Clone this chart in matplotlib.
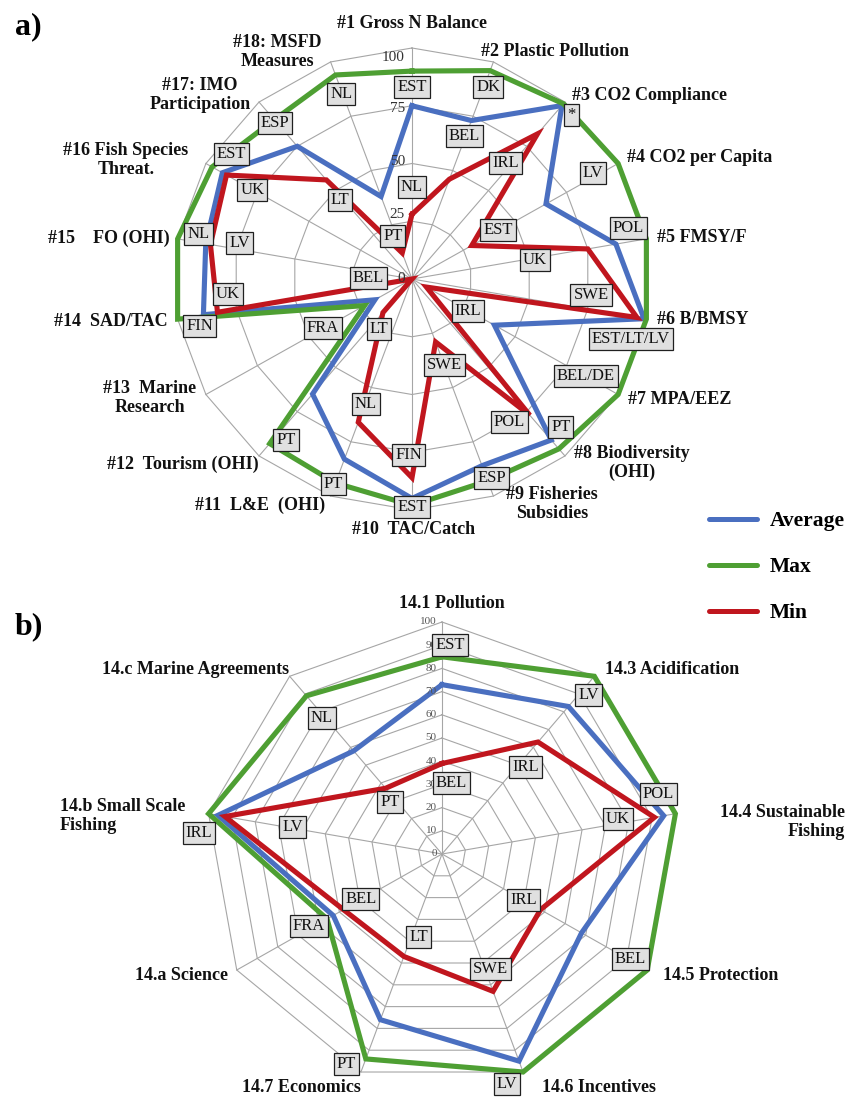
import numpy as np
import matplotlib
matplotlib.use("Agg")
import matplotlib.pyplot as plt
from matplotlib.lines import Line2D

plt.rcParams['font.family'] = ['Liberation Serif', 'DejaVu Serif']

# ---------------- data: chart a) ----------------
cats_a = ["#1 Gross N Balance", "#2 Plastic Pollution", "#3 CO2 Compliance",
          "#4 CO2 per Capita", "#5 FMSY/F", "#6 B/BMSY", "#7 MPA/EEZ",
          "#8 Biodiversity\n(OHI)", "#9 Fisheries\nSubsidies", "#10  TAC/Catch",
          "#11  L&E  (OHI)", "#12  Tourism (OHI)", "#13  Marine\nResearch",
          "#14  SAD/TAC", "#15    FO (OHI)", "#16 Fish Species\nThreat.",
          "#17: IMO\nParticipation", "#18: MSFD\nMeasures"]
avg_a = [75, 73, 98, 65, 87, 99, 40, 91, 86, 95, 83, 65, 18, 89, 88, 92, 75, 38]
max_a = [90, 96, 99, 100, 100, 100, 100, 96, 93, 98, 94, 93, 23, 100, 100, 97, 90, 94]
min_a = [28, 46, 82, 29, 75, 96, 7, 77, 29, 86, 66, 19, 0, 83, 86, 90, 56, 12]
max_lab_a = ["EST", "DK", "*", "LV", "POL", "EST/LT/LV", "BEL/DE", "PT", "ESP",
             "EST", "PT", "PT", "FRA", "FIN", "NL", "EST", "ESP", "NL"]
min_lab_a = ["NL", "BEL", "IRL", "EST", "UK", "SWE", "IRL", "POL", "SWE",
             "FIN", "NL", "LT", "BEL", "UK", "LV", "UK", "LT", "PT"]
ticks_a = [0, 25, 50, 75, 100]

# ---------------- data: chart b) ----------------
cats_b = ["14.1 Pollution", "14.3 Acidification", "14.4 Sustainable\nFishing",
          "14.5 Protection", "14.6 Incentives", "14.7 Economics", "14.a Science",
          "14.b Small Scale\nFishing", "14.c Marine Agreements"]
avg_b = [73, 83, 95, 68, 95, 76, 53, 96, 58]
max_b = [85, 100, 100, 100, 100, 94, 56, 100, 89]
min_b = [39, 63, 91, 48, 63, 47, 48, 93, 37]
max_lab_b = ["EST", "LV", "POL", "BEL", "LV", "PT", "FRA", "IRL", "NL"]
min_lab_b = ["BEL", "IRL", "UK", "IRL", "SWE", "LT", "BEL", "LV", "PT"]
ticks_b = list(range(0, 101, 10))

series_names = ["Average", "Max", "Min"]
colors = {"Average": "#4A6FC0", "Max": "#4E9F33", "Min": "#C0161E"}

# ---------------- layout (positions only) ----------------
W, H = 850, 1102
# label box positions, chart units (x, y) relative to centre
max_pos_a = [(0, 83), (32, 83), (67, 71), (76, 46), (91, 22), (92, -26), (73, -42),
             (62.5, -64), (33.5, -86.3), (0, -98.6), (-33, -88.9), (-52.9, -69.7),
             (-37.4, -21), (-89.2, -20.5), (-89.7, 19.5), (-75.8, 54.1), (-57.5, 67.4),
             (-29.7, 80)]
min_pos_a = [(0, 39.7), (22.1, 61.8), (39.4, 50.2), (36.1, 21.3), (51.6, 8.1),
             (75.2, -7.1), (23.6, -13.9), (41, -62), (13.7, -37.4), (-1.5, -76.3),
             (-19.5, -54), (-13.9, -21.5), (-18.3, 0.6), (-77.4, -6.4), (-72.5, 15.5),
             (-67.1, 38.7), (-30.3, 34.1), (-8.1, 18.7)]
max_pos_b = [(3.4, 90.1), (61.8, 68.7), (91.4, 25.8), (79.4, -45.1), (27.5, -99.1),
             (-40.3, -90.6), (-56.2, -30.9), (-102.6, 9.0), (-50.6, 58.8)]
min_pos_b = [(3.9, 30.5), (35.2, 37.3), (74.2, 15.0), (34.3, -19.7), (20.6, -49.4),
             (-9.9, -35.6), (-34.3, -19.3), (-63.1, 11.6), (-21.9, 22.3)]
# tick label vertical nudges (chart units) for chart a
tick_nudge_a = {0: 0, 25: 3, 50: 1, 75: -1, 100: -4}
# category label pixel positions and alignment
cat_pos_a = [(412, 23, 'center'), (481, 52, 'left'), (572, 95, 'left'), (627, 158, 'left'),
             (657, 238, 'left'), (657, 320, 'left'), (628, 400, 'left'), (632, 463, 'center'),
             (552, 504, 'center'), (414, 530, 'center'), (260, 505, 'center'),
             (259, 464, 'right'), (150, 398, 'center'), (168, 321, 'right'),
             (170, 238, 'right'), (126, 160, 'center'), (200, 95, 'center'),
             (277, 52, 'center')]
cat_pos_b = [(452, 603, 'center'), (605, 669, 'left'), (845, 822, 'right'),
             (663, 975, 'left'), (542, 1088, 'left'), (301, 1088, 'center'),
             (228, 975, 'right'), (60, 816, 'left'), (289, 669, 'right')]

fig = plt.figure(figsize=(W / 100, H / 100), dpi=100)


def add_ax(l, t, r, b, cx, cy, sx, sy):
    ax = fig.add_axes([l / W, 1 - b / H, (r - l) / W, (b - t) / H])
    ax.set_xlim((l - cx) / sx, (r - cx) / sx)
    ax.set_ylim((cy - b) / sy, (cy - t) / sy)
    ax.axis('off')
    return ax


def to_xy(vals):
    v = np.asarray(vals, float)
    n = len(v)
    th = 2 * np.pi * np.arange(n) / n
    return v * np.sin(th), v * np.cos(th)


def draw_radar(ax, n, rings, data, max_lab, min_lab, max_pos, min_pos, lw):
    th = 2 * np.pi * np.arange(n) / n
    grid_kw = dict(color='#A6A6A6', lw=0.8, zorder=1)
    for rv in rings[1:]:
        x, y = to_xy([rv] * n)
        ax.plot(np.append(x, x[0]), np.append(y, y[0]), **grid_kw)
    for t in th:
        ax.plot([0, 100 * np.sin(t)], [0, 100 * np.cos(t)], **grid_kw)
    for name in series_names:
        x, y = to_xy(data[name])
        ax.plot(np.append(x, x[0]), np.append(y, y[0]), color=colors[name], lw=lw,
                solid_joinstyle='miter', zorder=3)
    box = dict(boxstyle='square,pad=0.18', fc='#E0E0E0', ec='#202020', lw=0.9)
    for lab, (x, y) in zip(max_lab + min_lab, max_pos + min_pos):
        ax.text(x, y, lab, ha='center', va='center', fontsize=12, color='#111',
                bbox=box, zorder=5)


# ---------- chart a ----------
axa = add_ax(0, 0, 850, 560, 412, 279, 2.38, 2.31)
draw_radar(axa, len(cats_a), ticks_a,
           {"Average": avg_a, "Max": max_a, "Min": min_a},
           max_lab_a, min_lab_a, max_pos_a, min_pos_a, 3.7)
for v in ticks_a:
    axa.text(-3, v + tick_nudge_a[v], str(v), ha='right', va='center', fontsize=11,
             color='#333', zorder=4)

# ---------- chart b ----------
axb = add_ax(0, 580, 850, 1102, 442, 854, 2.37, 2.32)
draw_radar(axb, len(cats_b), ticks_b,
           {"Average": avg_b, "Max": max_b, "Min": min_b},
           max_lab_b, min_lab_b, max_pos_b, min_pos_b, 3.7)
for v in ticks_b:
    axb.text(-2.2, v, str(v), ha='right', va='center', fontsize=8,
             color='#555', zorder=4)

tkw = dict(fontsize=13, fontweight='bold', color='#111', va='center', linespacing=1.15)
for lab, (x, y, ha) in zip(cats_a, cat_pos_a):
    fig.text(x / W, 1 - y / H, lab, ha=ha, multialignment=ha, **tkw)
for lab, (x, y, ha) in zip(cats_b, cat_pos_b):
    fig.text(x / W, 1 - y / H, lab, ha=ha, multialignment=ha, **tkw)

fig.text(15 / W, 1 - 27 / H, "a)", fontsize=23, fontweight='bold', va='center')
fig.text(15 / W, 1 - 627 / H, "b)", fontsize=23, fontweight='bold', va='center')

handles = [Line2D([], [], color=colors[n], lw=3.6, solid_capstyle='round') for n in series_names]
fig.legend(handles, series_names, loc='upper left', bbox_to_anchor=(690 / W, 1 - 492 / H),
           frameon=False, handlelength=2.2, labelspacing=1.2, handletextpad=0.6,
           prop=dict(family='Liberation Serif', weight='bold', size=15.5))

fig.savefig("out.png", dpi=100)
